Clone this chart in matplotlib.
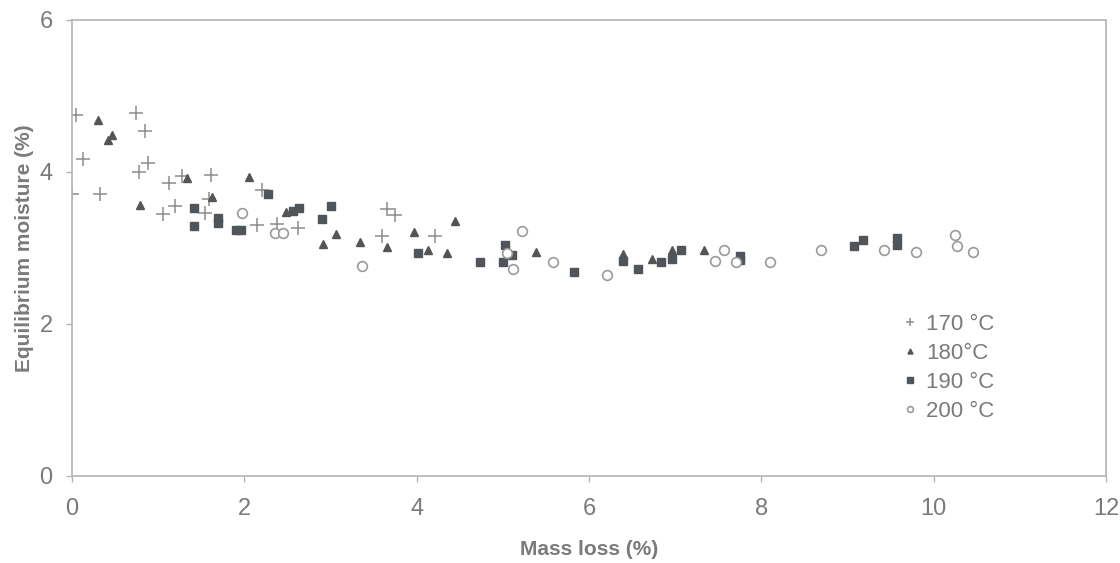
import matplotlib
matplotlib.use("Agg")
import matplotlib.pyplot as plt
from matplotlib import font_manager

# ---- data ----
x170 = [0.05, 0.74, 0.85, 0.13, 0.88, 0.78, 0.00, 0.32, 1.13, 1.28, 1.61, 2.21, 1.59, 1.06, 1.20, 1.54, 2.15, 2.38, 2.62, 3.66, 3.75, 3.60, 4.21]
y170 = [4.75, 4.77, 4.54, 4.17, 4.12, 4.00, 3.71, 3.71, 3.86, 3.95, 3.96, 3.76, 3.65, 3.45, 3.55, 3.46, 3.30, 3.32, 3.26, 3.51, 3.43, 3.16, 3.16]

x180 = [0.30, 0.42, 0.46, 0.79, 1.34, 2.05, 1.62, 2.48, 3.06, 2.91, 3.34, 3.65, 3.97, 4.13, 4.44, 4.35, 5.39, 6.40, 6.73, 6.96, 7.34]
y180 = [4.68, 4.42, 4.49, 3.57, 3.92, 3.93, 3.67, 3.48, 3.19, 3.05, 3.08, 3.01, 3.21, 2.97, 3.36, 2.93, 2.95, 2.92, 2.86, 2.98, 2.98]

x190 = [2.28, 1.42, 1.42, 1.69, 1.69, 1.90, 1.96, 2.57, 2.63, 3.00, 2.90, 4.02, 4.73, 5.03, 5.11, 5.00, 5.83, 6.39, 6.57, 6.84, 6.96, 7.07, 7.75, 7.75, 9.07, 9.18, 9.58, 9.58]
y190 = [3.71, 3.52, 3.29, 3.39, 3.33, 3.24, 3.24, 3.49, 3.53, 3.55, 3.38, 2.94, 2.82, 3.04, 2.91, 2.81, 2.68, 2.83, 2.73, 2.82, 2.86, 2.98, 2.89, 2.84, 3.03, 3.11, 3.13, 3.04]

x200 = [1.97, 2.36, 2.45, 3.37, 5.22, 5.05, 5.12, 5.58, 6.21, 7.46, 7.57, 7.71, 8.10, 8.69, 9.42, 9.80, 10.25, 10.27, 10.46]
y200 = [3.46, 3.20, 3.20, 2.76, 3.23, 2.94, 2.73, 2.81, 2.64, 2.83, 2.97, 2.82, 2.82, 2.97, 2.97, 2.95, 3.17, 3.02, 2.95]

labels = ["170 \u00b0C", "180\u00b0C", "190 \u00b0C", "200 \u00b0C"]
xticks = [0, 2, 4, 6, 8, 10, 12]
yticks = [0, 2, 4, 6]

# ---- fonts ----
names = {f.name for f in font_manager.fontManager.ttflist}
fam = "Liberation Sans Narrow" if "Liberation Sans Narrow" in names else "Liberation Sans"
plt.rcParams["font.family"] = [fam, "DejaVu Sans"]

txt = "#7a7a7a"
fig = plt.figure(figsize=(11.2, 5.63), dpi=100)
ax = fig.add_axes([72 / 1120, 1 - 476 / 563, (1106 - 72) / 1120, (476 - 20) / 563])

ax.plot(x170, y170, ls="none", marker="+", ms=10, mew=1.1, color="#8c8c8c", label=labels[0])
ax.plot(x180, y180, ls="none", marker="^", ms=6, color="#555555", label=labels[1])
ax.plot(x190, y190, ls="none", marker="s", ms=6.3, color="#50555c", label=labels[2])
ax.plot(x200, y200, ls="none", marker="o", ms=7, mfc="white", mec="#9a9a9a", mew=1.2, label=labels[3])

ax.set_xlim(0, 12)
ax.set_ylim(0, 6)
ax.set_xticks(xticks)
ax.set_yticks(yticks)
for s in ax.spines.values():
    s.set_color("#b5b5b5")
    s.set_linewidth(1.2)
ax.tick_params(colors="#b5b5b5", labelcolor=txt, labelsize=17, length=4, width=1)
ax.tick_params(axis="x", pad=12)
ax.tick_params(axis="y", pad=10)

ax.set_xlabel("Mass loss (%)", color=txt, fontsize=15, fontweight="bold", labelpad=14)
ax.set_ylabel("Equilibrium moisture (%)", color=txt, fontsize=15, fontweight="bold", labelpad=4)

leg = ax.legend(loc="upper left", bbox_to_anchor=(0.785, 0.40), frameon=False,
                fontsize=16, markerscale=0.6, handlelength=0.6, handletextpad=0.4,
                labelspacing=0.36, labelcolor=txt)

fig.savefig("out.png", dpi=100)
